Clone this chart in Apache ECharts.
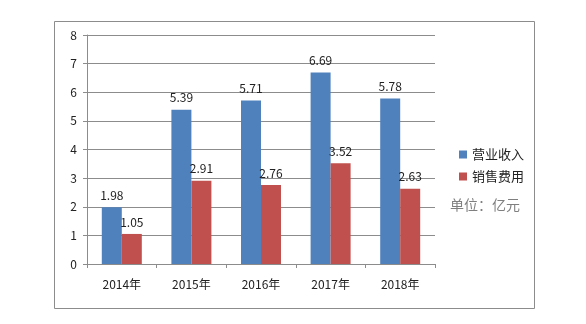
<!DOCTYPE html>
<html><head><meta charset="utf-8">
<script src="https://cdn.jsdelivr.net/npm/echarts@6/dist/echarts.min.js"></script>
<style>html,body{margin:0;padding:0;background:#fff}#c{width:586px;height:324px}</style>
</head><body><div id="c"></div>
<script>
const categories = ['2014年','2015年','2016年','2017年','2018年'];
const revenue = [1.98, 5.39, 5.71, 6.69, 5.78];
const salesExpense = [1.05, 2.91, 2.76, 3.52, 2.63];
const seriesNames = ['营业收入','销售费用'];
const unitText = '单位：亿元';
const font = '"Noto Sans CJK SC", "Noto Sans", sans-serif';
const chart = echarts.init(document.getElementById('c'));
chart.setOption({
  animation: false,
  backgroundColor: '#fff',
  textStyle: {fontFamily: font},
  grid: {left: 87, top: 35, width: 348, height: 229, containLabel: false},
  graphic: [
    {type: 'rect', shape: {x: 54.5, y: 21.5, width: 480, height: 287}, style: {fill: 'none', stroke: '#8c8c8c', lineWidth: 1}, z: -1},
    {type: 'text', left: 450, top: 198, style: {text: unitText, fill: '#7f7f7f', font: '14px ' + font}}
  ],
  legend: {
    orient: 'vertical', left: 454, top: 143, itemWidth: 8, itemHeight: 8, itemGap: 9,
    icon: 'rect', textStyle: {fontSize: 13, color: '#222', fontFamily: font},
    data: seriesNames
  },
  xAxis: {
    type: 'category', data: categories,
    axisLine: {lineStyle: {color: '#8c8c8c'}},
    axisTick: {show: true, length: 4, lineStyle: {color: '#8c8c8c'}},
    axisLabel: {color: '#222', fontSize: 12, margin: 14}
  },
  yAxis: {
    type: 'value', min: 0, max: 8, interval: 1,
    axisLine: {show: true, lineStyle: {color: '#8c8c8c'}},
    axisTick: {show: true, length: 4, lineStyle: {color: '#8c8c8c'}},
    axisLabel: {color: '#222', fontSize: 12, margin: 10},
    splitLine: {lineStyle: {color: '#8c8c8c'}}
  },
  series: [
    {name: seriesNames[0], type: 'bar', data: revenue, barWidth: 20, barGap: '0%', itemStyle: {color: '#4F81BD'},
     label: {show: true, position: 'top', distance: 6, color: '#222', fontSize: 12}},
    {name: seriesNames[1], type: 'bar', data: salesExpense, barWidth: 20, barGap: '0%', itemStyle: {color: '#C0504D'},
     label: {show: true, position: 'top', distance: 6, color: '#222', fontSize: 12}}
  ]
});
</script></body></html>
